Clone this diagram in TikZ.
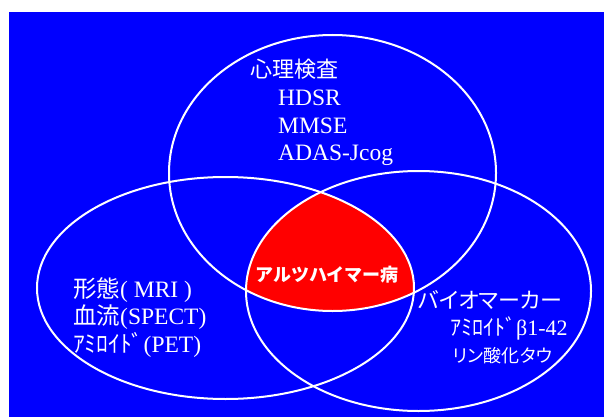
\documentclass[tikz,border=0pt]{standalone}
\usepackage{fontspec}
\setmainfont{Liberation Serif}
\newfontfamily\jp{Noto Sans CJK JP}
\newfontfamily\jpp[RawFeature=+palt]{Noto Sans CJK JP}
\definecolor{bgblue}{RGB}{0,0,255}
\definecolor{hotred}{RGB}{255,0,0}
\tikzset{
  lbl/.style={text=white, inner sep=0pt, anchor=base west},
  ring/.style={draw=white, line width=2pt}
}
\begin{document}
\begin{tikzpicture}[x=1pt,y=-1pt]
\useasboundingbox (0,0) rectangle (604,417);
\fill[white] (0,0) rectangle (604,417);
\fill[bgblue] (9,12) rectangle (604,417);
% red intersection
\begin{scope}
  \clip (332.5,173) ellipse [x radius=163.5pt, y radius=138pt];
  \clip (225.5,288) ellipse [x radius=188.5pt, y radius=111pt];
  \fill[hotred] (418.5,291) ellipse [x radius=172.5pt, y radius=120pt];
\end{scope}
\draw[ring] (332.5,173) ellipse [x radius=163.5pt, y radius=138pt];
\draw[ring] (225.5,288) ellipse [x radius=188.5pt, y radius=111pt];
\draw[ring] (418.5,291) ellipse [x radius=172.5pt, y radius=120pt];
% top text
\node[lbl, font=\jp\fontsize{22}{24}\selectfont] (t0) at (250,78) {心理検査};
\node[lbl, font=\fontsize{23.5}{25}\selectfont] (t1) at (278,106) {HDSR};
\node[lbl, font=\fontsize{23.5}{25}\selectfont] (t2) at (278,133) {MMSE};
\node[lbl, font=\fontsize{23.5}{25}\selectfont] (t3) at (278,160) {ADAS-Jcog};
% left text
\node[lbl, font=\fontsize{23.5}{25}\selectfont] (l1) at (73,297) {{\jp 形態}( MRI )};
\node[lbl, font=\fontsize{23.5}{25}\selectfont] (l2) at (73,324) {{\jp 血流}(SPECT)};
\node[lbl, font=\fontsize{23.5}{25}\selectfont] (l3) at (73,352) {{\jp ｱﾐﾛｲﾄﾞ}(PET)};
% center
\node[lbl, font=\jp\bfseries\fontsize{18}{20}\selectfont] (c) at (255,281) {アルツハイマー病};
% right text
\node[lbl, font=\jpp\fontsize{22}{24}\selectfont] (r1) at (418,308) {バイオマーカー};
\node[lbl, font=\fontsize{22}{24}\selectfont] (r2) at (450,335) {{\jp ｱﾐﾛｲﾄﾞ}β1-42};
\node[lbl, font=\jpp\fontsize{18}{20}\selectfont] (r3) at (453,362) {リン酸化タウ};
\end{tikzpicture}
\end{document}
